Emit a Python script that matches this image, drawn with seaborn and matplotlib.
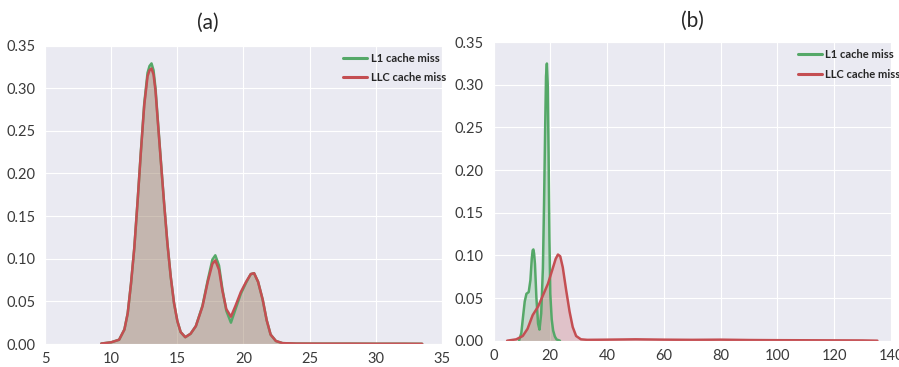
import matplotlib
matplotlib.use("Agg")
import matplotlib.pyplot as plt
import seaborn as sns

# ---- data ----
a_x = [9.25, 10.0, 10.6, 11.0, 11.25, 11.5, 11.75, 12.0, 12.25, 12.5, 12.75, 12.9, 13.05,
       13.2, 13.35, 13.5, 13.75, 14.0, 14.25, 14.5, 14.75, 15.0, 15.25, 15.6, 16.0, 16.4,
       16.9, 17.3, 17.65, 17.87, 18.15, 18.4, 18.7, 19.05, 19.4, 19.8, 20.2, 20.55, 20.8,
       21.1, 21.45, 21.75, 22.05, 22.45, 22.95, 24.0, 26.0, 28.0, 30.0, 32.0, 33.5]
a_l1 = [0.0005, 0.002, 0.005, 0.017, 0.036, 0.071, 0.113, 0.168, 0.227, 0.282, 0.318, 0.326, 0.329,
        0.321, 0.300, 0.268, 0.216, 0.165, 0.118, 0.079, 0.048, 0.027, 0.014, 0.008, 0.012, 0.021,
        0.045, 0.075, 0.099, 0.104, 0.092, 0.065, 0.039, 0.025, 0.041, 0.059, 0.072, 0.082, 0.083,
        0.073, 0.052, 0.028, 0.011, 0.0035, 0.001, 0.0005, 0.0004, 0.0004, 0.0003, 0.0003, 0.0002]
a_llc = [0.0005, 0.002, 0.005, 0.017, 0.036, 0.071, 0.113, 0.168, 0.226, 0.280, 0.314, 0.321, 0.323,
         0.316, 0.297, 0.266, 0.215, 0.165, 0.118, 0.079, 0.048, 0.027, 0.014, 0.008, 0.012, 0.021,
         0.044, 0.073, 0.094, 0.098, 0.087, 0.063, 0.041, 0.032, 0.045, 0.061, 0.073, 0.082, 0.083,
         0.073, 0.052, 0.028, 0.011, 0.0035, 0.001, 0.0005, 0.0004, 0.0004, 0.0003, 0.0003, 0.0002]

b_l1_x = [9.0, 9.8, 10.4, 11.0, 11.6, 12.4, 13.0, 13.5, 13.8, 14.05, 14.3, 14.6, 15.1, 15.7,
          16.2, 16.8, 17.4, 17.8, 18.2, 18.5, 18.8, 19.1, 19.4, 19.7, 20.0, 20.5, 21.0, 21.6,
          22.2, 23.4]
b_l1 = [0.0, 0.009, 0.028, 0.046, 0.055, 0.057, 0.071, 0.097, 0.106, 0.107, 0.102, 0.090, 0.051,
        0.020, 0.013, 0.032, 0.085, 0.16, 0.25, 0.31, 0.325, 0.30, 0.22, 0.12, 0.055, 0.025,
        0.012, 0.005, 0.0015, 0.0]
b_llc_x = [4.8, 8.0, 10.3, 12.0, 13.8, 15.7, 17.4, 19.2, 20.7, 21.9, 22.7, 23.5, 24.4, 25.6,
           26.8, 27.9, 29.1, 30.8, 33.0, 40.0, 50.0, 60.0, 70.0, 80.0, 90.0, 100.0, 110.0,
           120.0, 130.0, 135.2]
b_llc = [0.0, 0.0016, 0.0055, 0.014, 0.030, 0.040, 0.053, 0.067, 0.083, 0.096, 0.101, 0.099,
         0.086, 0.059, 0.034, 0.016, 0.0055, 0.0016, 0.001, 0.0012, 0.0016, 0.0012, 0.001,
         0.0012, 0.0008, 0.0006, 0.0005, 0.0004, 0.0003, 0.0]

labels = ["L1 cache miss", "LLC cache miss"]
titles = ["(a)", "(b)"]
a_xticks = [5, 10, 15, 20, 25, 30, 35]
b_xticks = [0, 20, 40, 60, 80, 100, 120, 140]
yticks = [0.00, 0.05, 0.10, 0.15, 0.20, 0.25, 0.30, 0.35]

# ---- style ----
sns.set_style("darkgrid")
plt.rcParams["font.family"] = ["Lato", "DejaVu Sans"]
green = "#55A868"
red = "#C44E52"

fig = plt.figure(figsize=(8.99, 3.67), dpi=100)
ax1 = fig.add_axes([45 / 899, 1 - 344 / 367, 397 / 899, 298.5 / 367])
ax2 = fig.add_axes([493.5 / 899, 1 - 340.7 / 367, 397.5 / 899, 298.5 / 367])


def draw(ax, xs1, ys1, xs2, ys2):
    sns.lineplot(x=xs1, y=ys1, ax=ax, color=green, lw=1.8, label=labels[0],
                 estimator=None, sort=False)
    ax.fill_between(xs1, ys1, color=green, alpha=0.25, lw=0)
    sns.lineplot(x=xs2, y=ys2, ax=ax, color=red, lw=1.8, label=labels[1],
                 estimator=None, sort=False)
    ax.fill_between(xs2, ys2, color=red, alpha=0.25, lw=0)
    ax.set_ylim(0, 0.35)
    ax.set_yticks(yticks)
    ax.set_xlabel("")
    ax.set_ylabel("")
    ax.tick_params(labelsize=10.5, colors="#3a3a3a")
    ax.tick_params(axis="x", pad=2.5)


draw(ax1, a_x, a_l1, a_x, a_llc)
ax1.set_xlim(5, 35)
ax1.set_xticks(a_xticks)
draw(ax2, b_l1_x, b_l1, b_llc_x, b_llc)
ax2.set_xlim(0, 140)
ax2.set_xticks(b_xticks)

for ax, anchor in [(ax1, (0.725, 1.01)), (ax2, (0.74, 1.01))]:
    leg = ax.legend(loc="upper left", bbox_to_anchor=anchor, frameon=False,
                    prop={"size": 8, "weight": "bold"}, handlelength=2.2,
                    handletextpad=0.3, labelspacing=0.75)
    for line in leg.get_lines():
        line.set_linewidth(2.2)

fig.text(208 / 899, 1 - 23 / 367, titles[0], ha="center", va="center", fontsize=15)
fig.text(692 / 899, 1 - 21 / 367, titles[1], ha="center", va="center", fontsize=15)

fig.savefig("out.png", dpi=100)
